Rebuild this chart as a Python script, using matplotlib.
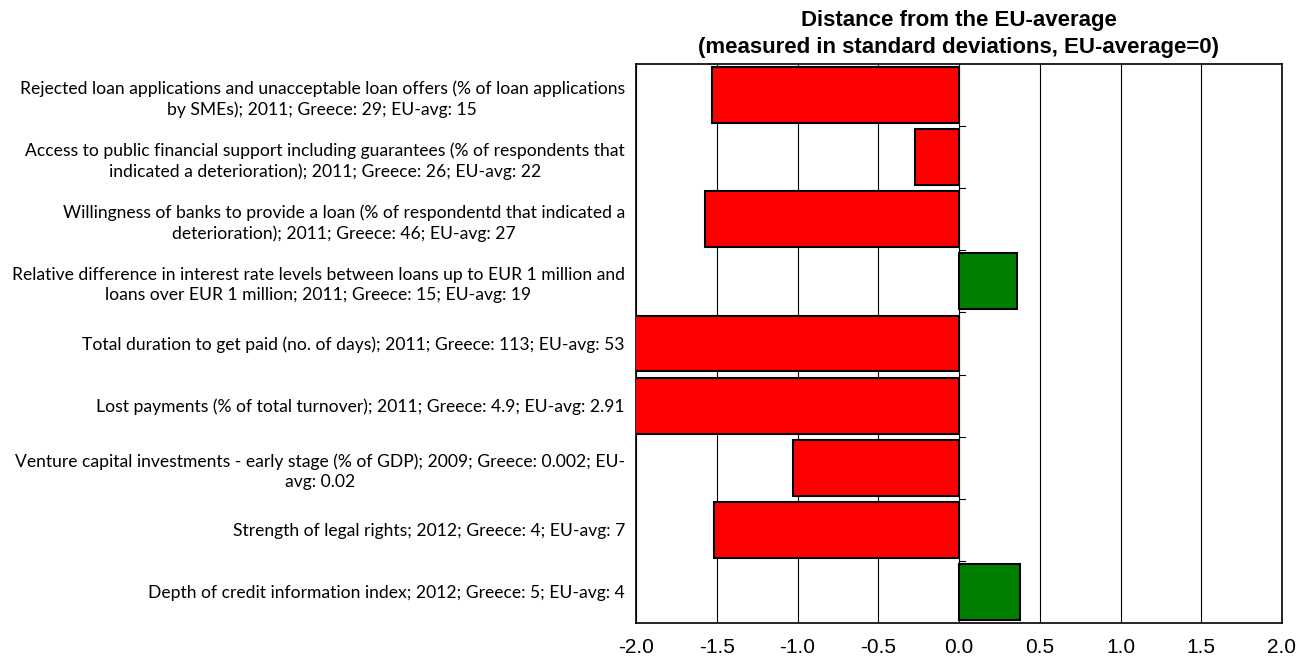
import numpy as np
from matplotlib import pyplot as plt

plt.rcParams["font.family"] = ["Liberation Sans", "DejaVu Sans"]

indicators = [
    "Rejected loan applications and unacceptable loan offers (% of loan applications\nby SMEs); 2011; Greece: 29; EU-avg: 15",
    "Access to public financial support including guarantees (% of respondents that\nindicated a deterioration); 2011; Greece: 26; EU-avg: 22",
    "Willingness of banks to provide a loan (% of respondentd that indicated a\ndeterioration); 2011; Greece: 46; EU-avg: 27",
    "Relative difference in interest rate levels between loans up to EUR 1 million and\nloans over EUR 1 million; 2011; Greece: 15; EU-avg: 19",
    "Total duration to get paid (no. of days); 2011; Greece: 113; EU-avg: 53",
    "Lost payments (% of total turnover); 2011; Greece: 4.9; EU-avg: 2.91",
    "Venture capital investments - early stage (% of GDP); 2009; Greece: 0.002; EU-\navg: 0.02",
    "Strength of legal rights; 2012; Greece: 4; EU-avg: 7",
    "Depth of credit information index; 2012; Greece: 5; EU-avg: 4",
]
distance = [-1.53, -0.27, -1.57, 0.36, -2.6, -2.4, -1.03, -1.52, 0.38]

fig = plt.figure(figsize=(13.1, 6.63), dpi=100)
ax = fig.add_axes([636 / 1310, 1 - 623 / 663, 646 / 1310, 559 / 663])

y = np.arange(len(indicators))
colors = ["#008000" if v > 0 else "#FF0000" for v in distance]
ax.barh(y, distance, height=0.9, color=colors, edgecolor="black", linewidth=1.5, zorder=3)

ax.set_xlim(-2.0, 2.0)
ax.set_ylim(len(indicators) - 0.5, -0.5)
ax.set_xticks(np.arange(-2.0, 2.01, 0.5))
ax.set_xticklabels([f"{v:.1f}" for v in np.arange(-2.0, 2.01, 0.5)], fontsize=15)
ax.tick_params(axis="x", length=0, pad=11)
ax.grid(axis="x", color="black", linewidth=0.8, zorder=0)

ax.set_yticks(y)
ax.set_yticklabels(indicators, fontsize=12.6, family=["Lato", "DejaVu Sans"],
                   multialignment="center", linespacing=1.35)
ax.tick_params(axis="y", length=0, pad=8)

# small category ticks on the zero axis
for b in np.arange(0.5, len(indicators) - 0.5, 1.0):
    ax.plot([0, 0.04], [b, b], color="black", linewidth=0.8, zorder=4)

for spine in ax.spines.values():
    spine.set_linewidth(1.2)

ax.set_title("Distance from the EU-average\n(measured in standard deviations, EU-average=0)",
             fontsize=16, fontweight="bold", pad=8, linespacing=1.35)

fig.savefig("out.png", dpi=100)
